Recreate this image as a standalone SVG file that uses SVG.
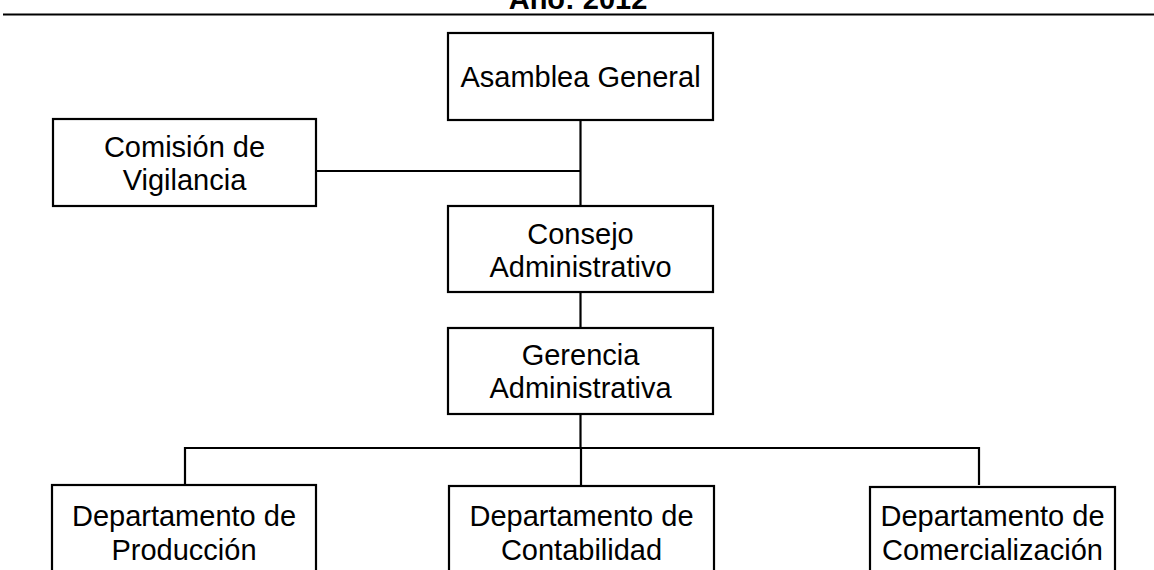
<svg xmlns="http://www.w3.org/2000/svg" width="1154" height="570" viewBox="0 0 1154 570">
<style>
.box{fill:#fff;stroke:#000;stroke-width:2.2}
.t{font-family:"Liberation Sans",Arial,sans-serif;font-size:29px;fill:#000;text-anchor:middle}
.title{font-family:"Liberation Sans",Arial,sans-serif;font-size:29px;font-weight:bold;fill:#000;text-anchor:middle}
.c{stroke:#000;stroke-width:2.2;fill:none}
</style>
<rect width="1154" height="570" fill="#fff"/>
<text class="title" x="578" y="9">Año: 2012</text>
<line x1="3" y1="14.5" x2="1154" y2="14.5" stroke="#000" stroke-width="2"/>
<g id="connectors">
<path class="c" d="M580.5 120 V206"/>
<path class="c" d="M316 171 H580.5"/>
<path class="c" d="M580.5 292 V328"/>
<path class="c" d="M580.5 414 V448"/>
<path class="c" d="M185 485 V448 H979 V485"/>
<path class="c" d="M581 448 V485"/>
</g>
<g id="asamblea">
<rect class="box" x="448" y="33" width="265" height="87"/>
<text class="t" x="580.5" y="87">Asamblea General</text>
</g>
<g id="comision">
<rect class="box" x="53" y="119" width="263" height="87"/>
<text class="t" x="184.5" y="157">Comisión de</text>
<text class="t" x="184.5" y="190">Vigilancia</text>
</g>
<g id="consejo">
<rect class="box" x="448" y="206" width="265" height="86"/>
<text class="t" x="580.5" y="244">Consejo</text>
<text class="t" x="580.5" y="277">Administrativo</text>
</g>
<g id="gerencia">
<rect class="box" x="448" y="328" width="265" height="86"/>
<text class="t" x="580.5" y="365">Gerencia</text>
<text class="t" x="580.5" y="398">Administrativa</text>
</g>
<g id="produccion">
<rect class="box" x="52" y="485" width="264" height="100"/>
<text class="t" x="184" y="526">Departamento de</text>
<text class="t" x="184" y="560">Producción</text>
</g>
<g id="contabilidad">
<rect class="box" x="449" y="486" width="265" height="100"/>
<text class="t" x="581.5" y="526">Departamento de</text>
<text class="t" x="581.5" y="560">Contabilidad</text>
</g>
<g id="comercializacion">
<rect class="box" x="870" y="487" width="245" height="100"/>
<text class="t" x="992.5" y="526">Departamento de</text>
<text class="t" x="992.5" y="560">Comercialización</text>
</g>
</svg>
